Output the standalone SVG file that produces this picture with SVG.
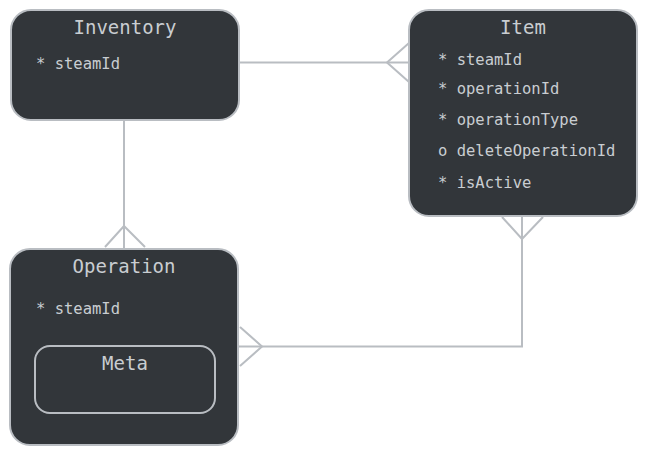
<svg xmlns="http://www.w3.org/2000/svg" width="647" height="455" viewBox="0 0 647 455">
<style>
.box{fill:#32363a;stroke:#b9bdc2;stroke-width:2}
.inner{fill:none;stroke:#b9bdc2;stroke-width:2}
.title{font-family:"DejaVu Sans Mono",monospace;font-size:19px;fill:#c9cdd1;text-anchor:middle}
.attr{font-family:"DejaVu Sans Mono",monospace;font-size:15.5px;fill:#c9cdd1}
.edge{fill:none;stroke:#b9bdc2;stroke-width:2}
</style>
<rect width="647" height="455" fill="#ffffff"/>
<g id="connectors">
<path class="edge" d="M240,62.5 H409"/>
<path class="edge" d="M409,43 L387,62.5 L409,82"/>
<path class="edge" d="M124,121 V249"/>
<path class="edge" d="M105,247 L124,226 L145,247"/>
<path class="edge" d="M522,217 V346.5 H238"/>
<path class="edge" d="M502,217 L522,239 L543,217"/>
<path class="edge" d="M240,327 L262,346.5 L240,366"/>
</g>
<g id="Inventory">
<rect class="box" x="11" y="10" width="228" height="110" rx="20"/>
<text class="title" x="125" y="34">Inventory</text>
<text class="attr" x="36" y="69">* steamId</text>
</g>
<g id="Item">
<rect class="box" x="409" y="10" width="228" height="206" rx="20"/>
<text class="title" x="523" y="34">Item</text>
<text class="attr" x="438" y="65">* steamId</text>
<text class="attr" x="438" y="94">* operationId</text>
<text class="attr" x="438" y="125">* operationType</text>
<text class="attr" x="438" y="156">o deleteOperationId</text>
<text class="attr" x="438" y="188">* isActive</text>
</g>
<g id="Operation">
<rect class="box" x="10" y="249" width="228" height="196" rx="20"/>
<text class="title" x="124" y="273">Operation</text>
<text class="attr" x="36" y="314">* steamId</text>
<g id="Meta">
<rect class="inner" x="35" y="346" width="180" height="67" rx="15"/>
<text class="title" x="125" y="370">Meta</text>
</g>
</g>
</svg>
